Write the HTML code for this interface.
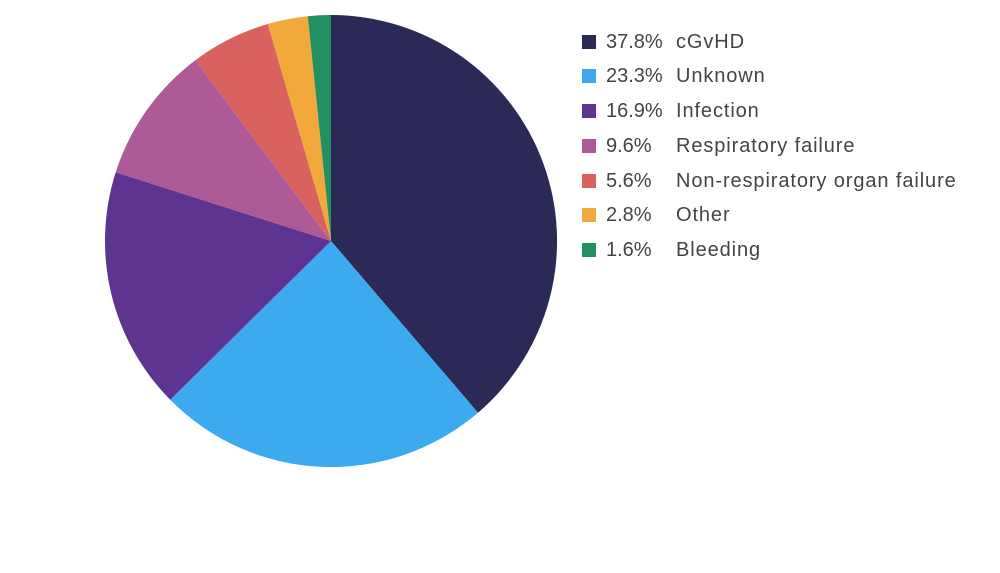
<!DOCTYPE html>
<html><head><style>
body{margin:0;background:#fff;width:1000px;height:573px;overflow:hidden;font-family:"Liberation Sans",sans-serif;}
.l{position:absolute;font-size:20px;color:#444;letter-spacing:0.9px;}
.p{letter-spacing:0;}
.s{position:absolute;width:14px;height:14px;}
</style></head><body>
<svg width="1000" height="573" style="position:absolute;left:0;top:0">
<path d="M331,241 L331,15 A226,226 0 0 1 478.0,412.7 Z" fill="#2b2a56"/>
<path d="M331,241 L478.0,412.7 A226,226 0 0 1 170.2,399.8 Z" fill="#3daaf0"/>
<path d="M331,241 L170.2,399.8 A226,226 0 0 1 115.7,172.3 Z" fill="#5d3590"/>
<path d="M331,241 L115.7,172.3 A226,226 0 0 1 195.4,60.2 Z" fill="#ad5a96"/>
<path d="M331,241 L195.4,60.2 A226,226 0 0 1 267.8,24.0 Z" fill="#d9625f"/>
<path d="M331,241 L267.8,24.0 A226,226 0 0 1 307.8,16.2 Z" fill="#f2a93b"/>
<path d="M331,241 L307.8,16.2 A226,226 0 0 1 331,15 Z" fill="#229060"/>
</svg>
<div class="s" style="left:582px;top:35px;background:#2b2a56"></div><div class="l p" style="left:606px;top:31px">37.8%</div><div class="l" style="left:676px;top:31px">cGvHD</div>
<div class="s" style="left:582px;top:69px;background:#3daaf0"></div><div class="l p" style="left:606px;top:65px">23.3%</div><div class="l" style="left:676px;top:65px">Unknown</div>
<div class="s" style="left:582px;top:104px;background:#5d3590"></div><div class="l p" style="left:606px;top:100px">16.9%</div><div class="l" style="left:676px;top:100px">Infection</div>
<div class="s" style="left:582px;top:139px;background:#ad5a96"></div><div class="l p" style="left:606px;top:135px">9.6%</div><div class="l" style="left:676px;top:135px">Respiratory failure</div>
<div class="s" style="left:582px;top:174px;background:#d9625f"></div><div class="l p" style="left:606px;top:170px">5.6%</div><div class="l" style="left:676px;top:170px">Non-respiratory organ failure</div>
<div class="s" style="left:582px;top:208px;background:#f2a93b"></div><div class="l p" style="left:606px;top:204px">2.8%</div><div class="l" style="left:676px;top:204px">Other</div>
<div class="s" style="left:582px;top:243px;background:#229060"></div><div class="l p" style="left:606px;top:239px">1.6%</div><div class="l" style="left:676px;top:239px">Bleeding</div>
</body></html>
